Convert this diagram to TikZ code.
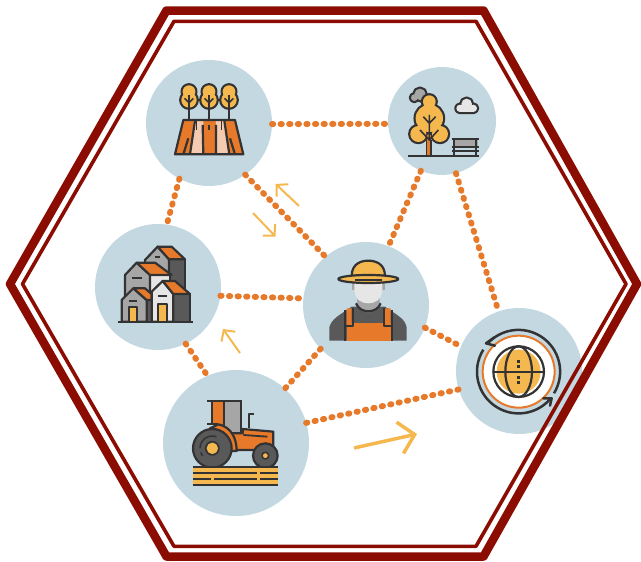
\documentclass[tikz,border=0pt]{standalone}
\usetikzlibrary{arrows.meta}
\definecolor{mist}{HTML}{C4D8E2}
\definecolor{wine}{HTML}{8B0D02}
\definecolor{dots}{HTML}{E67A2A}
\definecolor{amber}{HTML}{F4B84F}
\definecolor{ink}{HTML}{333333}
\definecolor{steel}{HTML}{595959}
\definecolor{ash}{HTML}{A6A6A6}
\definecolor{chalk}{HTML}{E6E6E6}
\definecolor{peach}{HTML}{F4CBB0}
\newcommand{\outlined}[2]{\draw[ink,line width=4.4pt] #2; \fill[#1] #2;}
\begin{document}
\begin{tikzpicture}[x=1pt,y=-1pt,line join=round]
        \tikzstyle{spot}=[circle, fill=mist, inner sep=0pt, outer sep=0pt]
        \tikzstyle{link}=[dots, line width=6pt, line cap=round, dash pattern=on 1.2pt off 7.4pt]
        \tikzstyle{flow}=[amber, line width=2pt, -{Straight Barb[length=8pt,width=17pt]}]
        \tikzstyle{bigflow}=[amber, line width=3.5pt, -{Straight Barb[length=15pt,width=32pt]}]
        \tikzstyle{inkline}=[ink, line width=2.2pt]
        \tikzstyle{twig}=[ink, line width=1.6pt]
        \useasboundingbox (0,0) rectangle (641,562);
        \node[spot, minimum size=126pt] (field) at (209,123) {};
        \node[spot, minimum size=108pt] (park) at (442,121) {};
        \node[spot, minimum size=126pt] (town) at (158,287) {};
        \node[spot, minimum size=126pt] (farmer) at (366,305) {};
        \node[spot, minimum size=146pt] (tractor) at (236,443) {};
        \node[spot, minimum size=126pt] (globe) at (519,371) {};
        \draw[link] (field.-1) -- (park.183);
        \draw[link] (field.-118) -- (town.82);
        \draw[link] (field.-55) -- (farmer.130);
        \draw[link] (park.-113) -- (farmer.69);
        \draw[link] (park.-75) -- (globe.109);
        \draw[link] (town.-8) -- (farmer.174);
        \draw[link] (town.-64) -- (tractor.113);
        \draw[link] (farmer.224) -- (tractor.48);
        \draw[link] (farmer.-21) -- (globe.157);
        \draw[link] (tractor.16) -- (globe.197);
        \coordinate (upS) at (299,206);
        \coordinate (upE) at (275.7,184);
        \coordinate (downS) at (253,213);
        \coordinate (downE) at (275.5,236.5);
        \coordinate (leftS) at (240,353);
        \coordinate (leftE) at (223,329);
        \coordinate (bigS) at (354,448);
        \coordinate (bigE) at (417,434);
        \draw[flow] (upS) -- (upE);
        \draw[flow] (downS) -- (downE);
        \draw[flow] (leftS) -- (leftE);
        \draw[bigflow] (bigS) -- (bigE);
        \begin{scope}[shift={(140,50)},scale=0.3333]
            \fill[dots] (130,210) -- (285,210) -- (310,313) -- (105,313) -- cycle;
            \fill[peach] (162,212) -- (190,212) -- (190,313) -- (150,313) -- cycle;
            \fill[peach] (228,212) -- (255,212) -- (268,313) -- (228,313) -- cycle;
            \draw[inkline] (130,210) -- (285,210) -- (310,313) -- (105,313) -- cycle;
            \draw[inkline] (150,313) -- (165,212) (190,313) -- (188,225) (228,313) -- (228,225) (268,313) -- (253,212);
            \draw[inkline] (130,313) -- (145,265) (285,313) -- (270,265);
            \draw[twig] (170,212) -- (170,240) (207,225) -- (207,240) (245,212) -- (245,240);
            \foreach \x in {147,207,267} {
                \outlined{amber}{(\x,125) circle (19) (\x,150) circle (23)}
                \draw[inkline] (\x,172) -- (\x,210);
                \draw[twig] (\x,135) -- (\x,172);
                \draw[twig] (\x-13,145) -- (\x,158) -- (\x+13,145);
            }
        \end{scope}
        \begin{scope}[shift={(385,60)},scale=0.3333]
            \outlined{ash}{(105,103) circle (17) (88,113) circle (10) (115,113) circle (11)}
            \outlined{amber}{(133,125) circle (19) (133,175) circle (41) (100,222) circle (24) (165,222) circle (24)}
            \fill[dots] (125,225) rectangle (138,285);
            \draw[twig] (125,240) -- (125,285) (138,240) -- (138,285);
            \draw[twig] (133,165) -- (133,240) (115,170) -- (133,190) -- (152,170) (105,210) -- (133,240) -- (160,210);
            \outlined{chalk}{(245,132) circle (16) (225,145) circle (11) (265,145) circle (11) (265,140) rectangle (225,156)}
            \fill[ash] (205,238) rectangle (278,262);
            \draw[inkline] (200,238) -- (282,238) (200,262) -- (282,262) (200,272) -- (282,272);
            \draw[inkline] (207,235) -- (207,287) (273,235) -- (273,287);
            \draw[inkline] (70,287) -- (283,287);
        \end{scope}
        \begin{scope}[shift={(90,220)},scale=0.3333]
            \filldraw[inkline, fill=steel] (237,118) -- (285,118) -- (285,230) -- (237,230) -- cycle;
            \filldraw[inkline, fill=ash] (165,120) -- (203,80) -- (237,118) -- (237,200) -- (165,200) -- cycle;
            \filldraw[inkline, fill=dots] (203,80) -- (245,80) -- (285,118) -- (237,118) -- cycle;
            \filldraw[inkline, fill=chalk] (180,165) -- (240,165) -- (240,240) -- (180,240) -- cycle;
            \filldraw[inkline, fill=ash] (105,165) -- (140,128) -- (180,165) -- (180,305) -- (105,305) -- cycle;
            \filldraw[inkline, fill=dots] (140,128) -- (195,128) -- (245,165) -- (180,165) -- cycle;
            \filldraw[inkline, fill=steel] (170,240) rectangle (187,305);
            \filldraw[inkline, fill=ash] (95,240) -- (130,205) -- (170,240) -- (170,305) -- (95,305) -- cycle;
            \filldraw[inkline, fill=dots] (130,205) -- (165,205) -- (185,222) -- (185,240) -- (170,240) -- cycle;
            \filldraw[inkline, fill=steel] (250,222) -- (300,222) -- (300,305) -- (250,305) -- cycle;
            \filldraw[inkline, fill=chalk] (185,215) -- (218,183) -- (250,222) -- (250,305) -- (185,305) -- cycle;
            \filldraw[inkline, fill=dots] (218,183) -- (255,183) -- (300,222) -- (250,222) -- cycle;
            \filldraw[inkline, fill=amber] (118,305) -- (118,260) -- (142,260) -- (142,305);
            \filldraw[inkline, fill=amber] (205,305) -- (205,253) -- (230,253) -- (230,305);
            \draw[inkline] (125,173) -- (155,173) (195,110) -- (210,110) (118,243) -- (142,243) (205,228) -- (230,228);
            \draw[inkline] (85,307) -- (310,307);
        \end{scope}
        \begin{scope}[shift={(300,240)},scale=0.3333]
            \fill[steel] (88,302) -- (88,262) .. controls (95,235) and (120,225) .. (155,200) -- (255,200) .. controls (290,225) and (315,235) .. (320,262) -- (320,302) -- cycle;
            \fill[dots] (140,205) rectangle (155,255) (255,205) rectangle (272,255);
            \fill[dots] (140,250) rectangle (272,302);
            \draw[inkline] (135,210) -- (135,302) (277,210) -- (277,302);
            \draw[inkline] (135,257) -- (160,257) -- (160,205) (277,257) -- (252,257) -- (252,205);
            \fill[ash] (155,130) rectangle (255,150);
            \fill[ash] (172,170) -- (238,170) -- (240,195) .. controls (225,225) and (185,225) .. (170,195) -- cycle;
            \draw[inkline] (168,190) .. controls (180,222) and (230,222) .. (242,190);
            \fill[chalk] (163,120) -- (247,120) -- (247,150) .. controls (245,180) and (225,190) .. (205,190) .. controls (185,190) and (165,180) .. (163,150) -- cycle;
            \filldraw[inkline, fill=amber] (155,108) .. controls (155,70) and (185,62) .. (205,62) .. controls (225,62) and (255,70) .. (255,108) -- cycle;
            \filldraw[inkline, fill=amber] (205,117) ellipse (90 and 12);
            \draw[inkline] (165,121) -- (247,121);
        \end{scope}
        \begin{scope}[shift={(160,365)},scale=0.3333]
            \fill[dots] (158,110) rectangle (190,180);
            \fill[ash] (193,110) rectangle (243,205);
            \draw[inkline] (142,108) -- (245,108) (157,108) -- (157,178) (191,108) -- (191,185) (243,108) -- (243,205);
            \draw[inkline] (267,190) -- (267,147) -- (282,147);
            \filldraw[inkline, fill=dots] (248,192) -- (340,200) -- (340,255) -- (230,255) -- (205,205) -- (248,205) -- cycle;
            \filldraw[inkline, fill=dots] (175,178) .. controls (210,185) and (230,215) .. (230,258) -- (205,258) .. controls (205,215) and (180,192) .. (150,190) -- cycle;
            \draw[inkline] (142,178) -- (175,178);
            \draw[ink, line width=1.8pt] (250,210) -- (322,215);
            \filldraw[inkline, fill=steel] (157,250) circle (58);
            \fill[amber] (157,250) circle (17);
            \draw[ink, line width=1.5pt] (157,250) circle (20);
            \draw[ink, line width=1.5pt] (120,250) arc (180:290:37) (122,262) -- (128,273);
            \filldraw[inkline, fill=steel] (316,272) circle (37);
            \filldraw[ink, fill=amber, line width=1.5pt] (316,272) circle (10);
            \fill[amber] (98,307) rectangle (355,360);
            \draw[inkline] (98,307) -- (355,307) (98,325) -- (290,325) (300,325) -- (355,325);
            \draw[inkline] (98,342) -- (152,342) (163,342) -- (290,342) (300,342) -- (355,342) (98,360) -- (355,360);
        \end{scope}
        \begin{scope}[shift={(450,305)},scale=0.3333]
            \fill[white] (206,200) circle (108);
            \draw[dots, line width=2pt] (206,200) circle (108);
            \draw[ink, line width=2.5pt] (312,265) arc (31.5:-138:125);
            \draw[ink, line width=2.5pt] (100,134) arc (212:42:125);
            \draw[ink, line width=2.5pt, line cap=round] (133,97) -- (108,115) -- (135,122);
            \draw[ink, line width=2.5pt, line cap=round] (280,280) -- (305,280) -- (300,302);
            \fill[amber] (206,200) circle (66);
            \draw[inkline] (206,200) circle (76);
            \draw[inkline] (206,200) ellipse (40 and 76);
            \draw[inkline] (130,200) -- (282,200);
            \foreach \y in {170,184,218,232}
                \fill[ink] (201,\y-4) rectangle (211,\y+4);
        \end{scope}
        \draw[wine, line width=8.5pt] (10,284) -- (166.5,10.5) -- (483.5,10.5) -- (637,284) -- (483.5,556.5) -- (166.5,556.5) -- cycle;
        \draw[wine, line width=3.6pt] (22.5,284) -- (174,21.3) -- (476,21.3) -- (626,284) -- (476,546.3) -- (174,546.3) -- cycle;
\end{tikzpicture}
\end{document}
